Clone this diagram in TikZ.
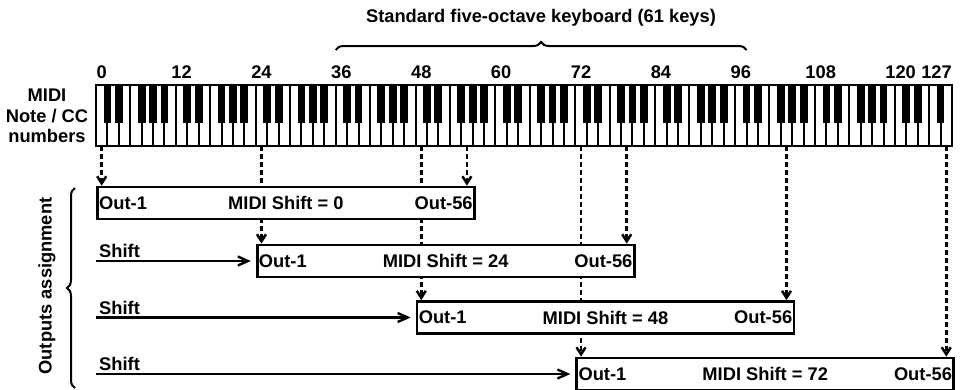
\documentclass[tikz,border=0pt]{standalone}
\usepackage{fontspec}
\setmainfont{Liberation Sans}
\usetikzlibrary{arrows.meta, positioning, decorations.pathreplacing, backgrounds}

\newcommand{\wk}{11.413}

\begin{document}
\begin{tikzpicture}[x=1pt, y=-1pt, font=\bfseries\fontsize{18.3}{20.5}\selectfont,
    whitekey/.style={draw=black, fill=white, line width=2pt},
    blackkey/.style={fill=black},
    keynum/.style={inner sep=0pt},
    outbox/.style={rectangle, draw=black, fill=white, line width=2.8pt, minimum width=377pt, minimum height=32pt, inner sep=0pt},
    boxtext/.style={inner sep=3pt},
    keyarrow/.style={-{Straight Barb[length=7pt, width=9pt]}, line width=2.5pt, dash pattern=on 4.5pt off 3.5pt},
    shiftarrow/.style={-{Straight Barb[length=10pt, width=9pt]}, line width=2.4pt, shorten >=5pt},
    bracestyle/.style={decorate, decoration={brace, amplitude=8pt}, line width=2pt}
]
\useasboundingbox (0,0) rectangle (971,389);

% Keyboard: 75 white keys, 0 .. 127
\foreach \i in {0,...,74}
    \draw[whitekey] (96+\i*\wk, 85) rectangle ++(\wk, 61);
\foreach \o in {0,...,9}
    \foreach \b in {1,2,4,5,6}
        \fill[blackkey] (96+7*\o*\wk+\b*\wk-3.9, 85) rectangle ++(7.8, 38);
\foreach \b in {71,72,74}
    \fill[blackkey] (96+\b*\wk-3.9, 85) rectangle ++(7.8, 38);
\draw[line width=2.8pt] (96,85) rectangle (96+75*\wk, 146);

% Key positions used below
\foreach \n/\w in {0/0, 24/14, 48/28, 55/32, 72/42, 79/46, 103/60, 127/74}
    \coordinate (k\n) at ({96+(\w+0.5)*\wk}, 146);
\coordinate (c36) at (96+21*\wk, 50);
\coordinate (c96) at (96+57*\wk, 50);

% Note numbers
\foreach \n in {0,12,...,120}
    \node[keynum] at ({96+(\n/12*7+0.5)*\wk}, 72) {\n};
\node[keynum, anchor=east] at (96+75*\wk, 72) {127};

\node[align=center] (midi) at (47, 116) {MIDI\\Note / CC\\numbers};

% Five-octave brace
\draw[bracestyle] (c36) -- (c96);
\node (title) at (541, 18) {Standard five-octave keyboard (61 keys)};

% Output boxes
\foreach \s/\w/\y in {0/0/203, 24/14/261, 48/28/317.5, 72/42/374} {
    \node[outbox, anchor=west] (out\s) at (96+\w*\wk, \y) {};
    \node[boxtext, anchor=west] at (out\s.west) {Out-1};
    \node[boxtext] at (out\s.center) {MIDI Shift = \s};
    \node[boxtext, anchor=east] at (out\s.east) {Out-56};
}

% Key to output arrows
\begin{scope}[on background layer]
\draw[keyarrow] (k0) -- (k0 |- out0.north);
\draw[keyarrow] (k55) -- (k55 |- out0.north);
\draw[keyarrow] (k24) -- (k24 |- out24.north);
\draw[keyarrow] (k79) -- (k79 |- out24.north);
\draw[keyarrow] (k48) -- (k48 |- out48.north);
\draw[keyarrow] (k103) -- (k103 |- out48.north);
\draw[keyarrow] (k72) -- (k72 |- out72.north);
\draw[keyarrow] (k127) -- (k127 |- out72.north);
\end{scope}

% Shift arrows
\foreach \s in {24,48,72}
    \draw[shiftarrow] (out0.west |- out\s.west) node[anchor=south west, inner sep=2pt] {Shift} -- (out\s.west);

% Outputs assignment
\draw[bracestyle] (75, 388) -- (75, 188);
\node[rotate=90] (assign) at (47, 286) {Outputs assignment};

\end{tikzpicture}
\end{document}
